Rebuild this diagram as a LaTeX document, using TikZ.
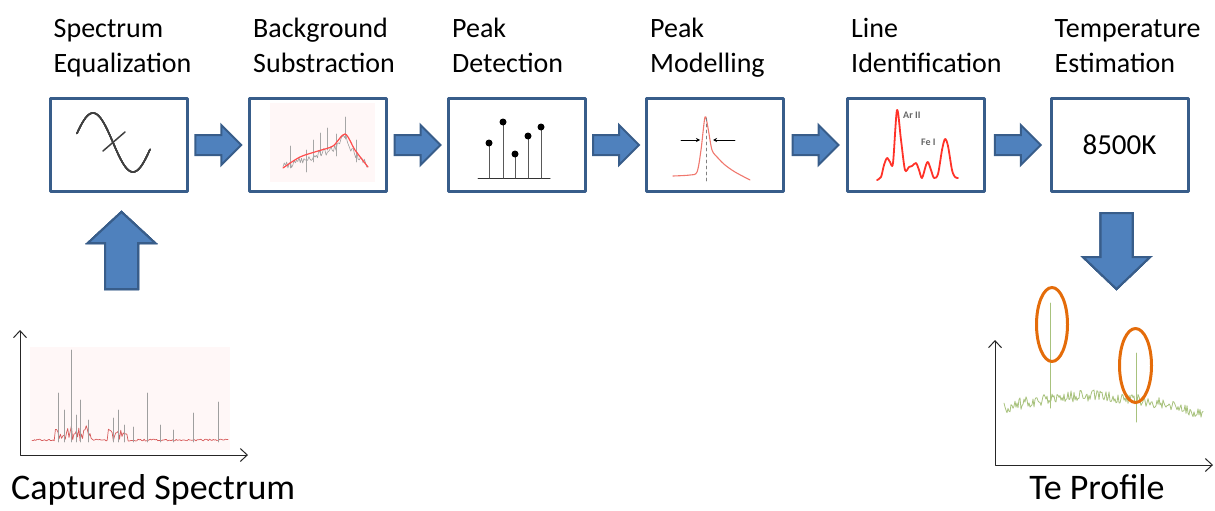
\documentclass[tikz,border=0pt]{standalone}
\usepackage{fontspec}
\setmainfont{Carlito}
\usetikzlibrary{calc,arrows.meta}
\definecolor{boxblue}{RGB}{56,93,138}
\definecolor{arrowfill}{RGB}{79,129,189}
\definecolor{ringorange}{RGB}{228,108,10}
\definecolor{tegreen}{RGB}{168,194,125}
\definecolor{peakred}{RGB}{240,120,110}
\definecolor{linered}{RGB}{255,50,40}
\tikzset{
  stage/.style={draw=boxblue,line width=3pt,minimum width=137pt,minimum height=93pt,
    inner sep=0pt,outer sep=0pt,font=\fontsize{29}{35}\selectfont},
  stagelabel/.style={align=left,inner sep=0pt,anchor=base west,font=\fontsize{28}{35}\selectfont},
  biglabel/.style={inner sep=0pt,font=\fontsize{36}{40}\selectfont},
  blockarrow/.style={fill=arrowfill,draw=boxblue,line width=2pt,line join=miter},
  axis/.style={line width=1pt,black!85,{Straight Barb[length=7pt,width=13pt]}-{Straight Barb[length=7pt,width=13pt]}},
  ring/.style={draw=ringorange,line width=3pt},
  tinylabel/.style={inner sep=0pt,text=black!60,font=\fontsize{10}{10}\selectfont\bfseries},
}
% block arrows: right (centre), up (tip), down (tip)
\newcommand{\rightblock}[1]{\draw[blockarrow] (#1) ++(-23,-10) -- ++(26,0) -- ++(0,-10) -- ++(20,20) -- ++(-20,20) -- ++(0,-10) -- ++(-26,0) -- cycle;}
\newcommand{\upblock}[1]{\draw[blockarrow] (#1) -- ++(33.5,31) -- ++(-17,0) -- ++(0,46) -- ++(-33,0) -- ++(0,-46) -- ++(-17,0) -- cycle;}
\newcommand{\downblock}[1]{\draw[blockarrow] (#1) -- ++(33.5,-32) -- ++(-17.5,0) -- ++(0,-44) -- ++(-32,0) -- ++(0,44) -- ++(-17.5,0) -- cycle;}
\begin{document}
\begin{tikzpicture}[x=1pt,y=-1pt,line join=round,line cap=round]
\useasboundingbox (0,0) rectangle (1215,511);
% stages
\foreach \i/\x/\txt/\val in {1/118.5/{Spectrum\\Equalization}/{},2/318/{Background\\Substraction}/{},
    3/517/{Peak\\Detection}/{},4/715/{Peak\\Modelling}/{},5/916/{Line\\Identification}/{},
    6/1119.5/{Temperature\\Estimation}/{8500K}}{
  \node[stage] (s\i) at (\x,145) {\val};
  \node[stagelabel] (t\i) at (\x-65,73) {\txt};
}
\foreach \i/\j in {1/2,2/3,3/4,4/5,5/6}
  \rightblock{$(s\i.east)!0.5!(s\j.west)$}
\upblock{$(s1.south)+(3,20.5)$}
\downblock{$(s6.south)+(-3,97.5)$}
% icon: equalization
\draw[line width=1.5pt,black!75] plot[domain=77:150,samples=60] (\x,{142.5-29.5*sin((\x-73)*4.5)});
\draw[line width=1.5pt,black!75] (103,151) -- (125,132);
% icon: background
\fill[red!3] (270,103) rectangle (375,182);
\pgfmathsetseed{5}
\draw[gray!75,line width=0.6pt] plot[domain=283:368,samples=70]
  (\x,{((\x<345) ? (167-0.35*(\x-283)) : (145+0.95*(\x-345))) - 12/(1+((\x-345)/3)^2) + 4*rand});
\foreach \x/\y in {290/146,306/150,313/140,320/133,327/128,336/134,345/117,356/140}
  \draw[gray!70,line width=0.6pt] (\x,{\y+22}) -- (\x,\y);
\draw[red!70,line width=1.2pt] plot[smooth] coordinates {(283,168) (300,157) (318,151) (333,146) (345,134) (355,150) (368,167)};
% icon: peak detection
\draw[line width=1pt,black!80] (478,178) -- (550,178);
\foreach \x/\y in {489/143,503/122,515/154,528/136,541/127}{
  \draw[gray!70!black,line width=1pt] (\x,178) -- (\x,\y);
  \fill (\x,\y) circle[radius=3.5pt];
}
% icon: peak modelling
\draw[peakred,line width=1.1pt] plot[smooth,tension=0.5] coordinates {(673,176) (690,175) (697,172) (701,150) (705,117) (708,128) (712,150) (718,158) (725,165) (735,172) (750,180)};
\draw[gray,dashed,line width=0.8pt] (706,118) -- (706,181);
\draw[-{Stealth[length=4pt,width=4pt]},line width=0.7pt] (681,140) -- (700,140);
\draw[-{Stealth[length=4pt,width=4pt]},line width=0.7pt] (735,140) -- (713,140);
% icon: line identification
\draw[linered,line width=1.8pt] plot[smooth,tension=0.5] coordinates {(877,180) (881,177) (884,165) (887,158) (890,162) (893,163) (897,110) (901,140) (905,170) (909,167) (912,166) (916,163) (919,170) (922,178) (926,165) (928,162) (931,170) (934,178) (938,174) (942,150) (945,139) (948,146) (952,170) (955,177) (958,178)};
\node[tinylabel,anchor=base west] (ar) at (903,118) {Ar II};
\node[tinylabel,anchor=base west] (fe) at (921,145) {Fe I};
% captured spectrum
\fill[red!3] (30,347) rectangle (230,450);
\pgfmathsetseed{11}
\draw[red!60!gray,opacity=0.8,line width=0.7pt] plot[domain=32:228,samples=160]
  (\x,{441 - 2*rnd - (((\x>55) && (\x<92)) || ((\x>108) && (\x<128)) ? 14*rnd : 0)});
\foreach \x/\y in {58/393,64/410,71/350,76/415,80/400,88/420,113/418,118/410,124/425,133/427,147/393,160/425,173/430,193/413,218/402}
  \draw[gray!75,line width=0.8pt] (\x,442) -- (\x,\y);
\draw[axis] (20,330) coordinate (ytop1) |- (248,455) coordinate (xend1);
\node[biglabel,anchor=base west] (cap) at (11,499) {Captured Spectrum};
% Te profile
\pgfmathsetseed{21}
\draw[tegreen,line width=0.8pt] plot[domain=1004:1203,samples=200]
  (\x,{396+0.0016*(\x-1100)^2+0.03*(\x-1100)+6*rand});
\draw[tegreen,line width=1pt] (1050,408) -- (1050,303);
\draw[tegreen,line width=1pt] (1136,422) -- (1136,353);
\draw[ring] (1052,324.5) ellipse[x radius=15.5pt,y radius=37pt];
\draw[ring] (1135.5,365.5) ellipse[x radius=16pt,y radius=37pt];
\draw[axis] (995,340) coordinate (ytop2) |- (1213,465) coordinate (xend2);
\node[biglabel,anchor=base] (te) at (1097,499) {Te Profile};
\end{tikzpicture}
\end{document}
